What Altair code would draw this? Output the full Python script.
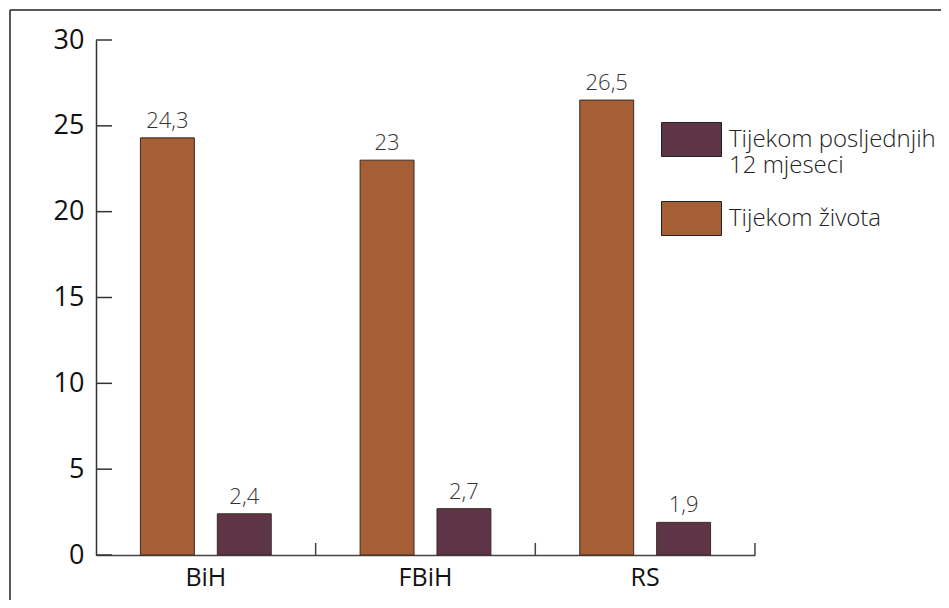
import altair as alt
import pandas as pd

regions = ["BiH", "FBiH", "RS"]
series_last12 = "Tijekom posljednjih 12 mjeseci"
series_life = "Tijekom života"
life_values = [24.3, 23, 26.5]
last12_values = [2.4, 2.7, 1.9]
y_ticks = [0, 5, 10, 15, 20, 25, 30]

rows = []
for r, a, b in zip(regions, life_values, last12_values):
    rows.append({"region": r, "series": series_life, "value": a})
    rows.append({"region": r, "series": series_last12, "value": b})
df = pd.DataFrame(rows)

FONT = "Open Sans"
ORANGE = "#A65E34"
PURPLE = "#5E3447"
INK = "#222222"

x_scale = alt.Scale(paddingInner=0.4045, paddingOuter=0.2023)
y_scale = alt.Scale(domain=[0, 30], nice=False)
off_scale = alt.Scale(paddingInner=0.2987, paddingOuter=0)

x_enc = alt.X("region:N", sort=regions, scale=x_scale,
              axis=alt.Axis(title=None, ticks=False, labelAngle=0, labelPadding=10,
                            labelFontSize=25, labelFont=FONT, labelColor="#111",
                            domainColor="#444", domainWidth=1.5))
y_enc = alt.Y("value:Q", scale=y_scale,
              axis=alt.Axis(title=None, values=y_ticks, ticks=False, grid=False,
                            labelPadding=12, labelFontSize=27, labelFont=FONT,
                            labelColor="#111", domainColor="#333", domainWidth=1.5))
off_enc = alt.XOffset("series:N", sort=[series_life, series_last12], scale=off_scale)

color_enc = alt.Color(
    "series:N",
    scale=alt.Scale(domain=[series_last12, series_life], range=[PURPLE, ORANGE]),
    legend=alt.Legend(
        orient="none", legendX=565, legendY=69, title=None, padding=0,
        symbolType="M-1,-0.567H1V0.567H-1Z", symbolSize=3600,
        symbolStrokeColor=INK, symbolStrokeWidth=1,
        labelFont=FONT, labelFontSize=24, labelFontWeight=300, labelColor=INK,
        labelOffset=7, labelLimit=400, rowPadding=10,
        labelExpr="datum.label == 'Tijekom posljednjih 12 mjeseci' ? ['Tijekom posljednjih', '12 mjeseci'] : datum.label",
    ),
)

base = alt.Chart(df)

bars = base.mark_bar(stroke="#3a2a22", strokeWidth=1).encode(
    x=x_enc, y=y_enc, xOffset=off_enc, color=color_enc
)

labels = base.transform_calculate(
    label="replace(format(datum.value, '.1~f'), '.', ',')"
).mark_text(dy=-10, baseline="alphabetic", font=FONT, fontSize=22,
            fontWeight=300, color="#333").encode(
    x=alt.X("region:N", sort=regions), y="value:Q", xOffset=off_enc, text="label:N"
)

x_ticks = alt.Chart(pd.DataFrame({"region": regions})).mark_rule(
    color="#444", strokeWidth=1.5, xOffset=44.4
).encode(
    x=alt.X("region:N", sort=regions, bandPosition=1),
    y=alt.value(503), y2=alt.value(515)
)

y_tick_rules = alt.Chart(pd.DataFrame({"t": y_ticks})).mark_rule(
    color="#333", strokeWidth=1.5
).encode(y=alt.Y("t:Q", scale=y_scale), x=alt.value(0), x2=alt.value(16))

frame_df = pd.DataFrame({"f": [0]})
frame_top = alt.Chart(frame_df).mark_rule(color=INK, strokeWidth=1.5).encode(
    x=alt.value(-86), x2=alt.value(1500), y=alt.value(-30)
)
frame_left = alt.Chart(frame_df).mark_rule(color=INK, strokeWidth=1.5).encode(
    x=alt.value(-86), y=alt.value(-30), y2=alt.value(1500)
)

chart = alt.layer(frame_top, frame_left, bars, labels, x_ticks, y_tick_rules).properties(
    width=659, height=515,
    background="white",
    autosize=alt.AutoSizeParams(type="none"),
    padding={"left": 88, "top": 32, "right": 186, "bottom": 45},
).configure_view(stroke=None)

chart.save("out.html", embed_options={"renderer": "svg", "actions": False})
